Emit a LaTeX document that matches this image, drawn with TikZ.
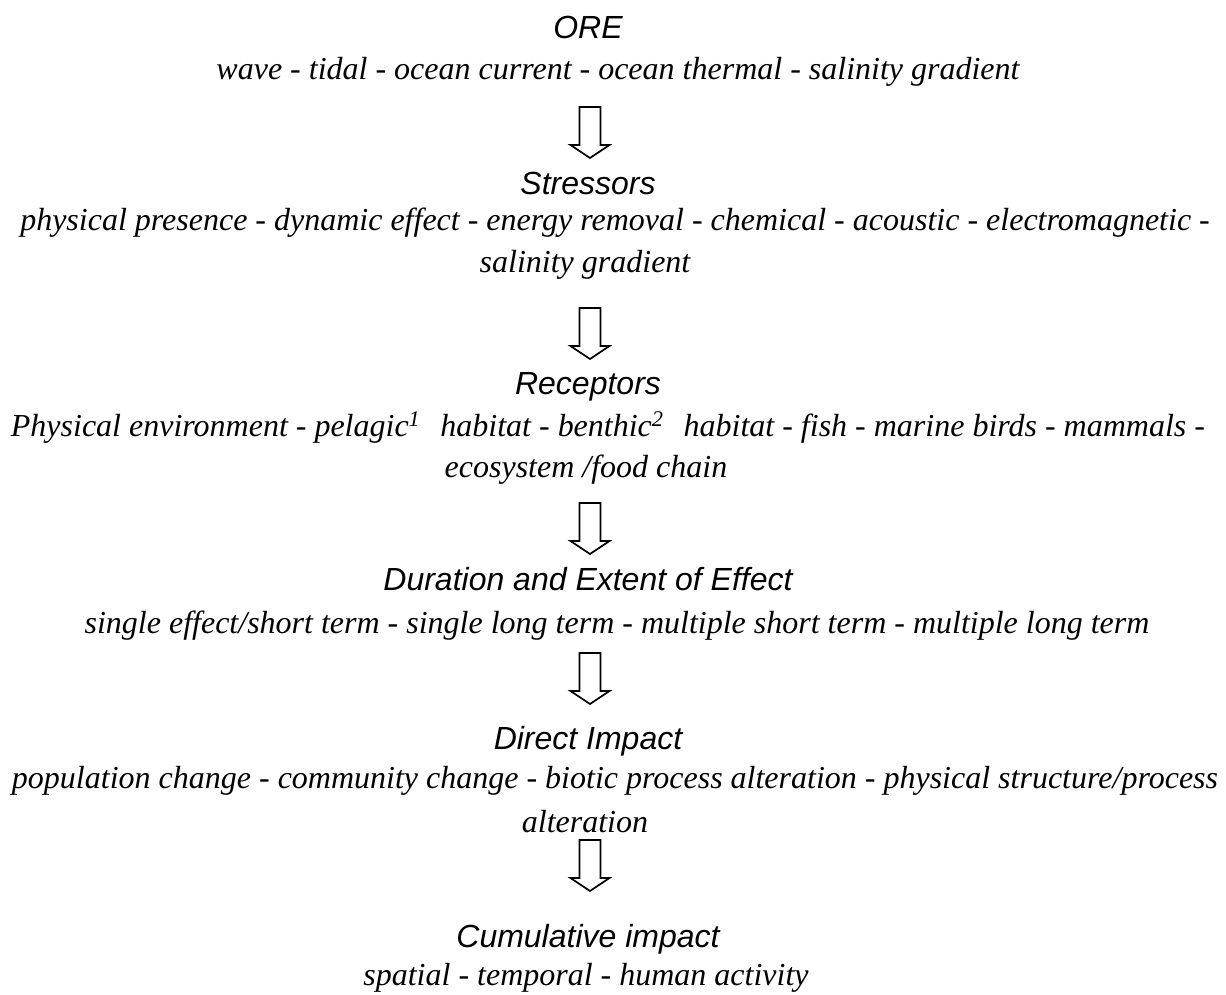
\documentclass[tikz,border=0pt]{standalone}
\usepackage{fontspec}
\setmainfont{Liberation Serif}
\newfontfamily\headfont{Liberation Sans}
\usepackage{tikz}

\tikzset{
  head/.style={anchor=base,inner sep=0pt,font=\headfont\itshape\fontsize{32}{38}\selectfont},
  desc/.style={anchor=base,inner sep=0pt,font=\itshape\fontsize{32}{38}\selectfont},
  blockarrow/.pic={\draw[line width=1.7pt,line join=miter]
    (-10.5,0) -- (-10.5,-38) -- (-19.5,-38) -- (0,-51) -- (19.5,-38) -- (10.5,-38) -- (10.5,0) -- cycle;}
}

\begin{document}
\begin{tikzpicture}[x=1pt,y=1pt]
\useasboundingbox (0,0) rectangle (1226,-995);
% ORE
\node[head] (ore) at (588,-39) {ORE};
\node[desc] (oretxt) at (618,-80) {wave - tidal - ocean current - ocean thermal - salinity gradient};
\coordinate (a1) at (590,-107);
\pic at (a1) {blockarrow};
% Stressors
\node[head] (str) at (588,-195) {Stressors};
\node[desc] (strtxt) at (615,-230) {physical presence - dynamic effect - energy removal - chemical - acoustic - electromagnetic -};
\node[desc] (strtxtb) at (585,-272) {salinity gradient};
\coordinate (a2) at (590,-308);
\pic at (a2) {blockarrow};
% Receptors
\node[head] (rec) at (588,-394) {Receptors};
\node[desc] (rectxt) at (608,-436) {Physical environment - pelagic\textsuperscript{1}\hspace{20pt}habitat - benthic\textsuperscript{2}\hspace{20pt}habitat - fish - marine birds - mammals -};
\node[desc] (rectxtb) at (586,-477) {ecosystem /food chain};
\coordinate (a3) at (590,-503);
\pic at (a3) {blockarrow};
% Duration and extent
\node[head] (dur) at (588,-590) {Duration and Extent of Effect};
\node[desc] (durtxt) at (617,-633) {single effect/short term - single long term - multiple short term - multiple long term};
\coordinate (a4) at (590,-653);
\pic at (a4) {blockarrow};
% Direct impact
\node[head] (dir) at (588,-749) {Direct Impact};
\node[desc] (dirtxt) at (615,-788) {population change - community change - biotic process alteration - physical structure/process};
\node[desc] (dirtxtb) at (585,-832) {alteration};
\coordinate (a5) at (590,-840);
\pic at (a5) {blockarrow};
% Cumulative impact
\node[head] (cum) at (588,-947) {Cumulative impact};
\node[desc] (cumtxt) at (586,-985) {spatial - temporal - human activity};
\end{tikzpicture}
\end{document}
